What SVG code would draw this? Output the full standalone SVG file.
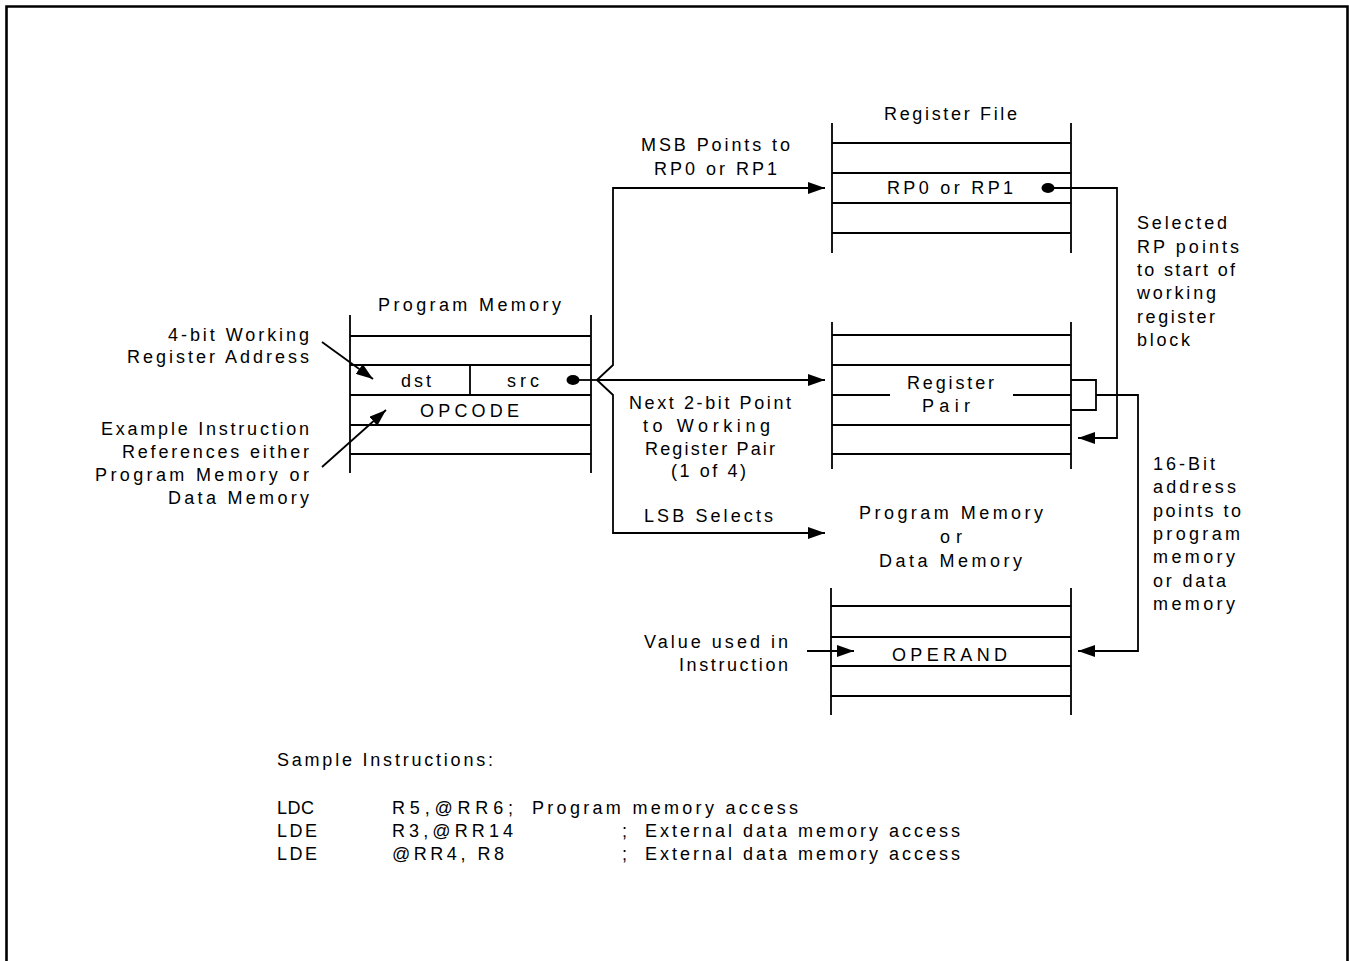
<svg xmlns="http://www.w3.org/2000/svg" width="1349" height="961" viewBox="0 0 1349 961">
<style>
text{font-family:"Liberation Sans",Arial,sans-serif;font-size:18px;fill:#000;}
.ln{stroke:#000;stroke-width:1.8;fill:none;}
.bd{stroke:#000;stroke-width:2.6;fill:none;}
.cn{stroke:#000;stroke-width:1.8;fill:none;}
.cnm{stroke:#000;stroke-width:1.8;fill:none;marker-end:url(#ah);}
</style>
<defs>
<marker id="ah" markerWidth="17" markerHeight="12" refX="17" refY="6" orient="auto" markerUnits="userSpaceOnUse">
<path d="M0,0 L17,6 L0,12 z" fill="#000"/>
</marker>
</defs>
<rect width="1349" height="961" fill="#fff"/>
<path class="bd" d="M6.5,961 V6.5 H1347.5 V961"/>

<g id="program-memory">
<text x="378" y="311" textLength="183" lengthAdjust="spacing">Program Memory</text>
<path class="ln" d="M350,315 V473 M591,315 V473 M350,336 H591 M350,365 H591 M350,395 H591 M350,425 H591 M350,454 H591 M470,365 V395"/>
<text x="401" y="387" textLength="30" lengthAdjust="spacing">dst</text>
<text x="507" y="387" textLength="32" lengthAdjust="spacing">src</text>
<text x="420" y="417" textLength="99" lengthAdjust="spacing">OPCODE</text>
</g>

<g id="label-working-register">
<text x="168" y="341" textLength="141" lengthAdjust="spacing">4-bit Working</text>
<text x="127" y="363" textLength="182" lengthAdjust="spacing">Register Address</text>
</g>

<g id="label-example">
<text x="101" y="435" textLength="208" lengthAdjust="spacing">Example Instruction</text>
<text x="122" y="458" textLength="187" lengthAdjust="spacing">References either</text>
<text x="95" y="481" textLength="214" lengthAdjust="spacing">Program Memory or</text>
<text x="168" y="504" textLength="141" lengthAdjust="spacing">Data Memory</text>
</g>

<g id="register-file">
<text x="884" y="120" textLength="133" lengthAdjust="spacing">Register File</text>
<path class="ln" d="M832,123 V253 M1071,123 V253 M832,143 H1071 M832,173 H1071 M832,203 H1071 M832,233 H1071"/>
<text x="887" y="194" textLength="126" lengthAdjust="spacing">RP0 or RP1</text>
</g>

<g id="register-pair">
<path class="ln" d="M832,322 V469 M1071,322 V469 M832,335 H1071 M832,365 H1071 M832,425 H1071 M832,454 H1071 M832,395 H890 M1013,395 H1071"/>
<text x="907" y="389" textLength="87" lengthAdjust="spacing">Register</text>
<text x="922" y="412" textLength="48" lengthAdjust="spacing">Pair</text>
</g>

<g id="data-memory">
<text x="859" y="519" textLength="184" lengthAdjust="spacing">Program Memory</text>
<text x="940" y="543" textLength="22" lengthAdjust="spacing">or</text>
<text x="879" y="567" textLength="143" lengthAdjust="spacing">Data Memory</text>
<path class="ln" d="M831,588 V715 M1071,588 V715 M831,606 H1071 M831,637 H1071 M831,666 H1071 M831,696 H1071"/>
<text x="892" y="661" textLength="115" lengthAdjust="spacing">OPERAND</text>
</g>

<g id="label-msb">
<text x="641" y="151" textLength="149" lengthAdjust="spacing">MSB Points to</text>
<text x="654" y="175" textLength="123" lengthAdjust="spacing">RP0 or RP1</text>
</g>

<g id="label-next">
<text x="629" y="409" textLength="162" lengthAdjust="spacing">Next 2-bit Point</text>
<text x="643" y="432" textLength="127" lengthAdjust="spacing">to Working</text>
<text x="645" y="455" textLength="130" lengthAdjust="spacing">Register Pair</text>
<text x="671" y="477" textLength="75" lengthAdjust="spacing">(1 of 4)</text>
</g>

<g id="label-lsb">
<text x="644" y="522" textLength="129" lengthAdjust="spacing">LSB Selects</text>
</g>

<g id="label-selected">
<text x="1137" y="229" textLength="90" lengthAdjust="spacing">Selected</text>
<text x="1137" y="253" textLength="102" lengthAdjust="spacing">RP points</text>
<text x="1137" y="276" textLength="98" lengthAdjust="spacing">to start of</text>
<text x="1137" y="299" textLength="79" lengthAdjust="spacing">working</text>
<text x="1137" y="323" textLength="78" lengthAdjust="spacing">register</text>
<text x="1137" y="346" textLength="53" lengthAdjust="spacing">block</text>
</g>

<g id="label-16bit">
<text x="1153" y="470" textLength="62" lengthAdjust="spacing">16-Bit</text>
<text x="1153" y="493" textLength="83" lengthAdjust="spacing">address</text>
<text x="1153" y="517" textLength="88" lengthAdjust="spacing">points to</text>
<text x="1153" y="540" textLength="87" lengthAdjust="spacing">program</text>
<text x="1153" y="563" textLength="82" lengthAdjust="spacing">memory</text>
<text x="1153" y="587" textLength="73" lengthAdjust="spacing">or data</text>
<text x="1153" y="610" textLength="82" lengthAdjust="spacing">memory</text>
</g>

<g id="label-value">
<text x="644" y="648" textLength="144" lengthAdjust="spacing">Value used in</text>
<text x="679" y="671" textLength="109" lengthAdjust="spacing">Instruction</text>
</g>

<g id="connectors">
<ellipse cx="573" cy="380" rx="6.5" ry="5" fill="#000"/>
<path class="cn" d="M573,380 H597"/>
<path class="cnm" d="M597,380 L613,365 V188 H825"/>
<path class="cnm" d="M597,380 H825"/>
<path class="cnm" d="M597,380 L613,395 V533 H825"/>
<ellipse cx="1048" cy="188" rx="6.5" ry="5" fill="#000"/>
<path class="cnm" d="M1048,188 H1117 V438 H1078"/>
<path class="cn" d="M1071,380 H1096 V410 H1071"/>
<path class="cnm" d="M1096,395 H1138 V651 H1078"/>
<path class="cnm" d="M807,651 H854"/>
<path class="cnm" d="M322,342 L373,379"/>
<path class="cnm" d="M322,467 L386,410"/>
</g>

<g id="sample-instructions">
<text x="277" y="766" textLength="216" lengthAdjust="spacing">Sample Instructions:</text>
<text x="277" y="814" textLength="37" lengthAdjust="spacing">LDC</text>
<text x="392" y="814" textLength="121" lengthAdjust="spacing">R5,@RR6;</text>
<text x="532" y="814" textLength="266" lengthAdjust="spacing">Program memory access</text>
<text x="277" y="837" textLength="40" lengthAdjust="spacing">LDE</text>
<text x="392" y="837" textLength="121" lengthAdjust="spacing">R3,@RR14</text>
<text x="622" y="837">;</text>
<text x="645" y="837" textLength="315" lengthAdjust="spacing">External data memory access</text>
<text x="277" y="860" textLength="40" lengthAdjust="spacing">LDE</text>
<text x="392" y="860" textLength="112" lengthAdjust="spacing">@RR4, R8</text>
<text x="622" y="860">;</text>
<text x="645" y="860" textLength="315" lengthAdjust="spacing">External data memory access</text>
</g>
</svg>
